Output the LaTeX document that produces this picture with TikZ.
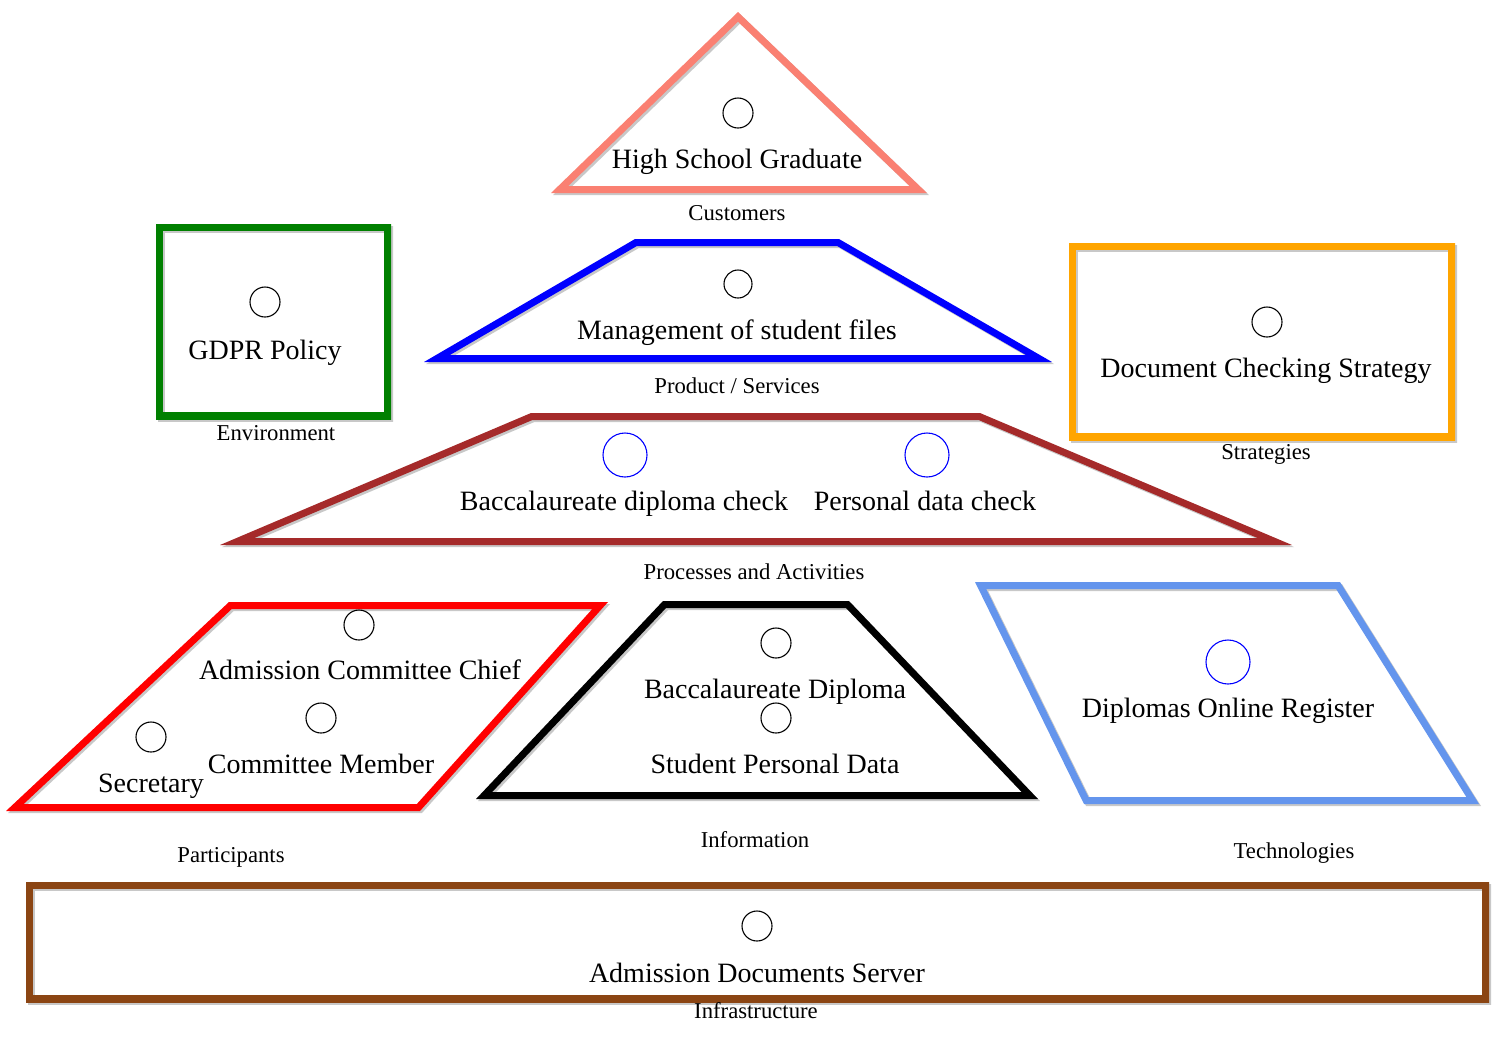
\documentclass[tikz,border=0pt]{standalone}
\usepackage{fontspec}
\setmainfont{Liberation Serif}
\definecolor{salmonc}{RGB}{250,128,114}
\definecolor{greenc}{RGB}{0,128,0}
\definecolor{bluec}{RGB}{0,0,255}
\definecolor{orangec}{RGB}{255,165,0}
\definecolor{brownc}{RGB}{165,42,42}
\definecolor{redc}{RGB}{255,0,0}
\definecolor{cornc}{RGB}{100,149,237}
\definecolor{saddlec}{RGB}{139,69,19}
\definecolor{shadowc}{RGB}{200,200,200}
\newcommand\frameshape[2]{%
  \begin{scope}[shift={(2,2)}]\clip #2;\draw[line width=14pt,shadowc] #2;\end{scope}
  \begin{scope}\clip #2;\draw[line width=14pt,#1] #2;\end{scope}}
\begin{document}
\begin{tikzpicture}[x=1pt,y=-1pt,
  dot/.style={circle,draw=black,line width=1.1pt,minimum size=30pt,inner sep=0pt},
  bdot/.style={circle,draw=bluec,line width=1.1pt,minimum size=44pt,inner sep=0pt},
  elem/.style={font=\fontsize{28}{32}\selectfont,inner sep=0pt,anchor=base},
  lab/.style={font=\fontsize{22.7}{26}\selectfont,inner sep=0pt,anchor=base}]
\useasboundingbox (0,0) rectangle (1497,1045);
% Customers
\frameshape{salmonc}{(738,12) -- (927,193) -- (551,193) -- cycle}
\node[dot] (c1) at (738,113) {};
\node[elem] (t1) at (737,168) {High School Graduate};
\node[lab] (l1) at (737,220) {Customers};
% Environment
\frameshape{greenc}{(156,224) rectangle (391,419)}
\node[dot] (c2) at (265,302) {};
\node[elem] (t2) at (265,359) {GDPR Policy};
\node[lab] (l2) at (276,440) {Environment};
% Product / Services
\frameshape{bluec}{(635,239) -- (839,239) -- (1052,362) -- (424,362) -- cycle}
\node[dot,minimum size=28pt] (c3) at (738,284) {};
\node[elem] (t3) at (737,339) {Management of student files};
\node[lab] (l3) at (737,393) {Product / Services};
% Strategies
\frameshape{orangec}{(1069,243) rectangle (1455,440)}
\node[dot] (c4) at (1267,322) {};
\node[elem] (t4) at (1266,377) {Document Checking Strategy};
\node[lab] (l4) at (1266,459) {Strategies};
% Processes
\frameshape{brownc}{(531,413) -- (980,413) -- (1292,545) -- (220,545) -- cycle}
\node[bdot] (c5) at (625,455) {};
\node[bdot] (c6) at (927,455) {};
\node[elem] (t5) at (624,510) {Baccalaureate diploma check};
\node[elem] (t6) at (925,510) {Personal data check};
\node[lab] (l5) at (754,579) {Processes and Activities};
% Participants
\frameshape{redc}{(229,602) -- (608,602) -- (420,811) -- (6,811) -- cycle}
\node[dot] (c7) at (359,625) {};
\node[dot] (c8) at (321,718) {};
\node[dot] (c9) at (151,737) {};
\node[elem] (t7) at (360,679) {Admission Committee Chief};
\node[elem] (t8) at (321,773) {Committee Member};
\node[elem] (t9) at (151,792) {Secretary};
\node[lab] (l6) at (231,862) {Participants};
% Information
\frameshape{black}{(663,601) -- (849,601) -- (1038,799) -- (476,799) -- cycle}
\node[dot] (c10) at (776,643) {};
\node[dot] (c11) at (776,718) {};
\node[elem] (t10) at (775,698) {Baccalaureate Diploma};
\node[elem] (t11) at (775,773) {Student Personal Data};
\node[lab] (l7) at (755,847) {Information};
% Technologies
\frameshape{cornc}{(975,582) -- (1340,582) -- (1479,804) -- (1084,804) -- cycle}
\node[bdot] (c12) at (1228,662) {};
\node[elem] (t12) at (1228,717) {Diplomas Online Register};
\node[lab] (l8) at (1294,858) {Technologies};
% Infrastructure
\frameshape{saddlec}{(26,882) rectangle (1489,1002)}
\node[dot] (c13) at (757,926) {};
\node[elem] (t13) at (757,982) {Admission Documents Server};
\node[lab] (l9) at (756,1018) {Infrastructure};
\end{tikzpicture}
\end{document}
